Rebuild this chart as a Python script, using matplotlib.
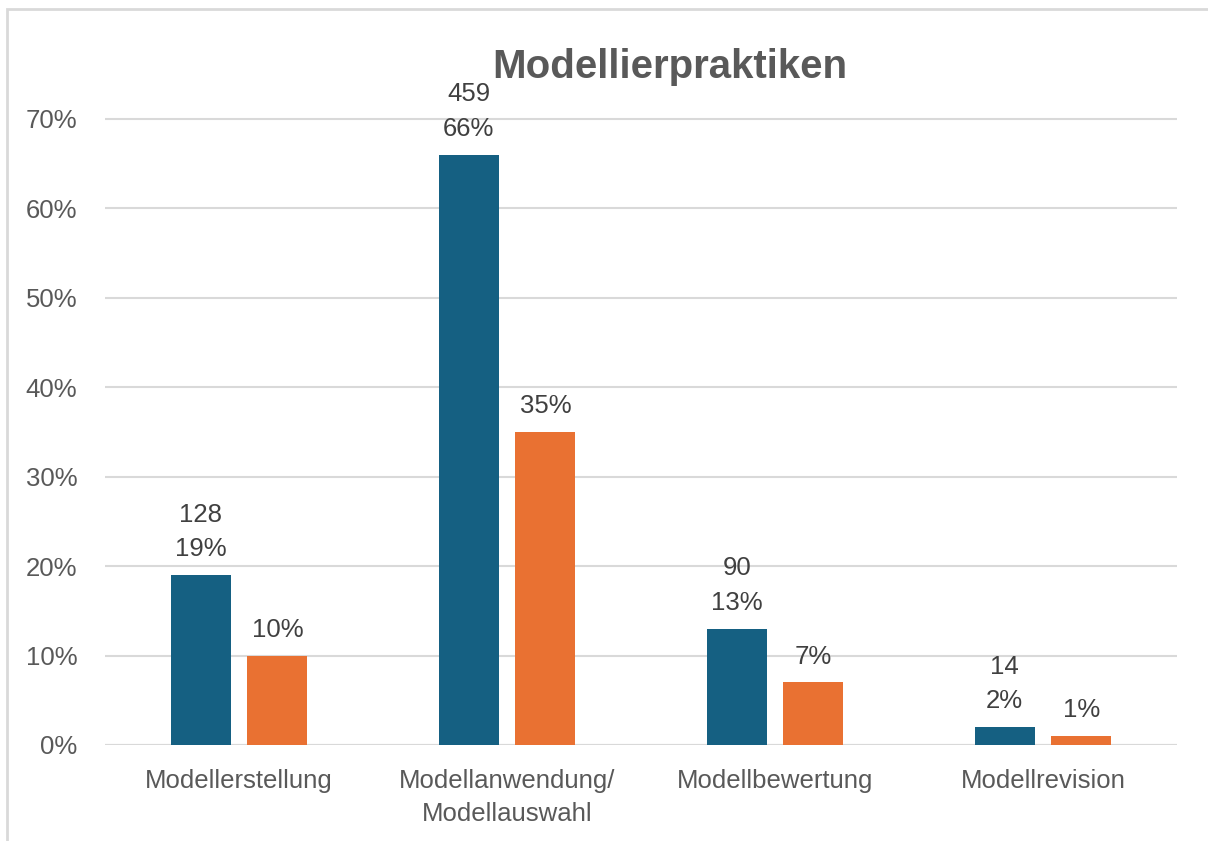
import matplotlib
matplotlib.use("Agg")
import matplotlib.pyplot as plt
import numpy as np
from matplotlib.patches import Rectangle

categories = ["Modellerstellung", "Modellanwendung/\nModellauswahl",
              "Modellbewertung", "Modellrevision"]
blue_pct = [19, 66, 13, 2]
blue_counts = [128, 459, 90, 14]
orange_pct = [10, 35, 7, 1]

plt.rcParams['font.family'] = ['Liberation Sans', 'DejaVu Sans']

fig = plt.figure(figsize=(12.08, 8.41), dpi=100)
ax = fig.add_axes([105/1208, 1 - 745/841, 1072/1208, (745 - 119)/841 * 80/70])

x = np.arange(len(categories))
w = 0.224
off = 0.143
ax.bar(x - off, blue_pct, w, color='#156082', zorder=3)
ax.bar(x + off, orange_pct, w, color='#E97132', zorder=3)

for xi, p, c in zip(x, blue_pct, blue_counts):
    ax.annotate(f"{c}\n{p}%", (xi - off, p), xytext=(0, 10), textcoords='offset points',
                ha='center', va='bottom', fontsize=18.5, color='#404040', linespacing=1.55)
for xi, p in zip(x, orange_pct):
    ax.annotate(f"{p}%", (xi + off, p), xytext=(0, 10), textcoords='offset points',
                ha='center', va='bottom', fontsize=18.5, color='#404040')

ax.set_xlim(-0.5, len(categories) - 0.5)
ax.set_ylim(0, 80)
ax.set_yticks(range(0, 80, 10))
ax.set_yticklabels([f"{v}%" for v in range(0, 80, 10)])
ax.set_xticks(x)
ax.set_xticklabels(categories, linespacing=1.5)
ax.tick_params(axis='both', length=0, labelsize=18.5, labelcolor='#595959')
ax.tick_params(axis='y', pad=20)
ax.tick_params(axis='x', pad=17)
ax.grid(axis='y', color='#d9d9d9', linewidth=1.5, zorder=0)
for s in ax.spines.values():
    s.set_visible(False)
ax.axhline(0, color='#d9d9d9', linewidth=1.5, zorder=2)

fig.text(670/1208, 1 - 67/841, "Modellierpraktiken", ha='center', va='center',
         fontsize=29, fontweight='bold', color='#595959')

fig.patches.append(Rectangle((7/1208, -0.1), 1.2, 1 - 9/841 + 0.1,
                             transform=fig.transFigure, fill=False,
                             edgecolor='#d9d9d9', linewidth=2))

fig.savefig("out.png", dpi=100)
